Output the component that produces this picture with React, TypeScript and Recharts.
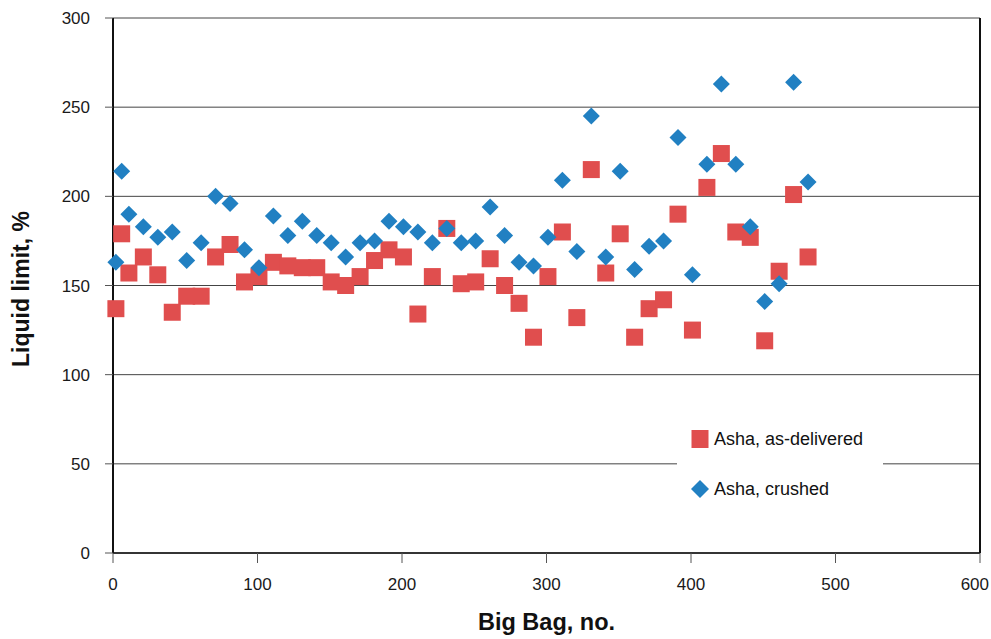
import { ScatterChart, Scatter, XAxis, YAxis, CartesianGrid, ReferenceLine, Legend, Label } from 'recharts'

// big bag number for every sample
const bagNo = [
  2, 6, 11, 21, 31, 41, 51, 61, 71, 81, 91, 101, 111, 121, 131, 141, 151, 161, 171, 181, 191, 201, 211, 221, 231,
  241, 251, 261, 271, 281, 291, 301, 311, 321, 331, 341, 351, 361, 371, 381, 391, 401, 411, 421, 431, 441, 451, 461,
  471, 481,
]

// liquid limit, %
const asDelivered = [
  137, 179, 157, 166, 156, 135, 144, 144, 166, 173, 152, 155, 163, 161, 160, 160, 152, 150, 155, 164, 170, 166, 134,
  155, 182, 151, 152, 165, 150, 140, 121, 155, 180, 132, 215, 157, 179, 121, 137, 142, 190, 125, 205, 224, 180, 177,
  119, 158, 201, 166,
]
const crushed = [
  163, 214, 190, 183, 177, 180, 164, 174, 200, 196, 170, 160, 189, 178, 186, 178, 174, 166, 174, 175, 186, 183, 180,
  174, 182, 174, 175, 194, 178, 163, 161, 177, 209, 169, 245, 166, 214, 159, 172, 175, 233, 156, 218, 263, 218, 183,
  141, 151, 264, 208,
]

const xTicks = [0, 100, 200, 300, 400, 500, 600]
const yTicks = [0, 50, 100, 150, 200, 250, 300]

const RED = '#E04E4E'
const BLUE = '#2180C2'
const FONT = '"Liberation Sans", Arial, sans-serif'

const deliveredData = bagNo.map((x, i) => ({ x, y: asDelivered[i] }))
const crushedData = bagNo.map((x, i) => ({ x, y: crushed[i] }))

function Square(props: any) {
  const { cx, cy } = props
  return <rect x={cx - 8.5} y={cy - 8.5} width={17} height={17} fill={RED} />
}

function Diamond(props: any) {
  const { cx, cy } = props
  const r = 8.5
  return <polygon points={`${cx},${cy - r} ${cx + r},${cy} ${cx},${cy + r} ${cx - r},${cy}`} fill={BLUE} />
}

// last label is pulled inside the frame so it isn't clipped at the edge
function XTick(props: any) {
  const { x, y, payload } = props
  const last = payload.value === xTicks[xTicks.length - 1]
  return (
    <text
      x={last ? x + 9 : x}
      y={y}
      dy="0.71em"
      textAnchor={last ? 'end' : 'middle'}
      fontFamily={FONT}
      fontSize={17}
      fill="#1a1a1a"
    >
      {payload.value}
    </text>
  )
}

function YTitle() {
  const x = 29
  const y = 289
  return (
    <text x={x} y={y} transform={`rotate(-90, ${x}, ${y})`} textAnchor="middle" fontFamily={FONT} fontSize={23} fontWeight="bold" fill="#111">
      Liquid limit, %
    </text>
  )
}

function XTitle(props: any) {
  const { viewBox } = props
  return (
    <text x={viewBox.x + viewBox.width / 2} y={630} textAnchor="middle" fontFamily={FONT} fontSize={23.5} fontWeight="bold" fill="#111">
      Big Bag, no.
    </text>
  )
}

function LegendBox() {
  const row = { position: 'absolute' as const, left: 14, display: 'flex', alignItems: 'center', height: 22 }
  return (
    <div style={{ position: 'relative', background: '#fff', width: 206, height: 96, fontFamily: FONT, fontSize: 18, color: '#111' }}>
      <div style={{ ...row, top: 13 }}>
        <svg width={18} height={18} style={{ display: 'block' }}>
          <rect x={0.5} y={0} width={17} height={18} fill={RED} />
        </svg>
        <span style={{ marginLeft: 5 }}>Asha, as-delivered</span>
      </div>
      <div style={{ ...row, top: 63 }}>
        <svg width={18} height={18} style={{ display: 'block' }}>
          <polygon points="9,0 18,9 9,18 0,9" fill={BLUE} />
        </svg>
        <span style={{ marginLeft: 5 }}>Asha, crushed</span>
      </div>
    </div>
  )
}

export default function App() {
  const tick = { fontSize: 17, fill: '#1a1a1a', fontFamily: FONT }
  return (
    <>
      <style>{'body { margin: 0; }'}</style>
      <ScatterChart width={991} height={639} margin={{ top: 18, right: 11, bottom: 0, left: 0 }}>
        <CartesianGrid vertical={false} stroke="#444" strokeWidth={1} />
        <XAxis
          type="number"
          dataKey="x"
          domain={[0, 600]}
          ticks={xTicks}
          height={86}
          tick={XTick}
          tickSize={10}
          tickMargin={15}
          axisLine={{ stroke: '#111', strokeWidth: 1.5 }}
          tickLine={{ stroke: '#555' }}
          interval={0}
        >
          <Label content={XTitle} />
        </XAxis>
        <YAxis
          type="number"
          dataKey="y"
          domain={[0, 300]}
          ticks={yTicks}
          width={113}
          tick={tick}
          tickSize={8}
          tickMargin={15}
          axisLine={{ stroke: '#111', strokeWidth: 2 }}
          tickLine={{ stroke: '#555' }}
        >
          <Label content={YTitle} />
        </YAxis>
        <ReferenceLine x={600} stroke="#111" strokeWidth={2} />
        <Scatter name="Asha, as-delivered" data={deliveredData} shape={Square} isAnimationActive={false} />
        <Scatter name="Asha, crushed" data={crushedData} shape={Diamond} isAnimationActive={false} />
        <Legend
          layout="vertical"
          align="center"
          verticalAlign="middle"
          content={LegendBox}
          wrapperStyle={{ left: 677, top: 415, width: 206, height: 96 }}
        />
      </ScatterChart>
    </>
  )
}
